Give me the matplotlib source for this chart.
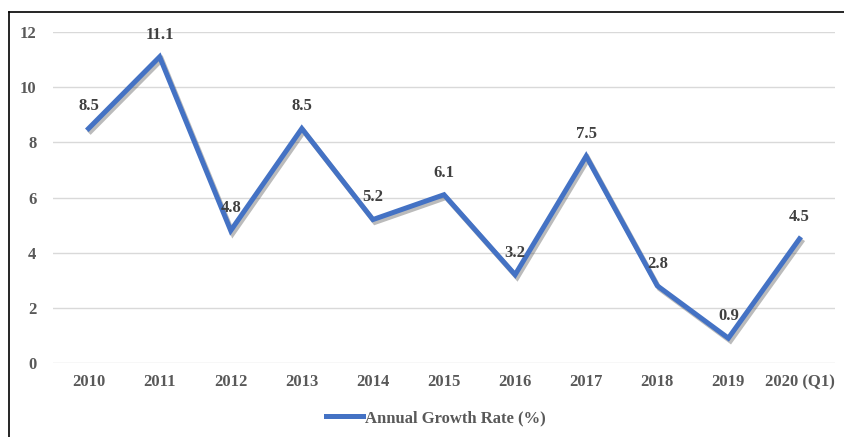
import matplotlib
matplotlib.use('Agg')
import matplotlib.pyplot as plt
import matplotlib.patheffects as pe
from matplotlib.lines import Line2D

plt.rcParams['font.family'] = ['Liberation Serif', 'DejaVu Serif']
plt.rcParams['font.weight'] = 'bold'

# Data
years = ["2010", "2011", "2012", "2013", "2014", "2015", "2016",
         "2017", "2018", "2019", "2020 (Q1)"]
growth = [8.5, 11.1, 4.8, 8.5, 5.2, 6.1, 3.2, 7.5, 2.8, 0.9, 4.5]
y_ticks = [0, 2, 4, 6, 8, 10, 12]
series_name = "Annual Growth Rate (%)"

line_color = '#4472C4'
tick_color = '#595959'
label_color = '#404040'

fig = plt.figure(figsize=(8.45, 4.37), dpi=100, facecolor='white')
ax = fig.add_axes([53 / 845, 1 - 363 / 437, (835 - 53) / 845, (363 - 32) / 437])

x = list(range(len(years)))
ax.plot(x, growth, color=line_color, linewidth=3.6, solid_joinstyle='miter',
        label=series_name, zorder=3,
        path_effects=[pe.SimpleLineShadow(offset=(1.5, -2), shadow_color='#555555', alpha=0.4),
                      pe.Normal()])

# Data labels above points
for xi, v in zip(x, growth):
    ax.annotate(f'{v:.1f}', (xi, v), xytext=(0, 16), textcoords='offset points',
                ha='center', va='center', fontsize=12, fontweight='bold',
                color=label_color, zorder=5)

ax.set_xlim(-0.5, len(years) - 0.5)
ax.set_ylim(0, 12)
ax.set_yticks(y_ticks)
ax.set_yticklabels([str(t) for t in y_ticks])
ax.set_xticks(x)
ax.set_xticklabels(years)
ax.tick_params(axis='both', length=0, labelsize=12, labelcolor=tick_color)
ax.tick_params(axis='y', pad=12)
ax.tick_params(axis='x', pad=8)
for lab in ax.get_xticklabels() + ax.get_yticklabels():
    lab.set_fontweight('bold')

ax.grid(axis='y', color='#D9D9D9', linewidth=1)
ax.set_axisbelow(True)
for s in ax.spines.values():
    s.set_visible(False)

handle = Line2D([], [], color=line_color, linewidth=3.6)
ax.legend([handle], [series_name], loc='center', bbox_to_anchor=(0.49, -0.166),
          frameon=False, handlelength=2.2, handletextpad=0.15,
          prop={'size': 12, 'weight': 'bold'}, labelcolor=tick_color)

# Outer frame (left and top edges visible)
fig.add_artist(Line2D([9 / 845, 9 / 845], [0, 1 - 11.5 / 437], color='black',
                      linewidth=1.2, transform=fig.transFigure))
fig.add_artist(Line2D([9 / 845, 1], [1 - 11.5 / 437, 1 - 11.5 / 437], color='black',
                      linewidth=1.2, transform=fig.transFigure))

fig.savefig('out.png', dpi=100, facecolor='white')
